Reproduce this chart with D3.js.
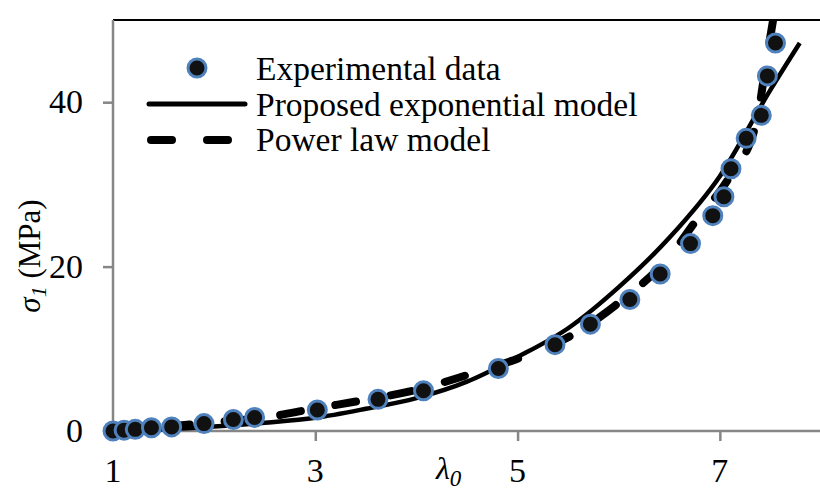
<!DOCTYPE html>
<html><head><meta charset="utf-8">
<script src="https://cdn.jsdelivr.net/npm/d3@7"></script>
<style>body{margin:0;background:#fff}svg{display:block}</style>
</head><body><div id="chart"></div>
<script>
// Experimental data
const expLambda = [1.0,1.11,1.22,1.38,1.58,1.9,2.19,2.4,3.02,3.62,4.07,4.81,5.37,5.72,6.11,6.41,6.71,6.93,7.04,7.11,7.26,7.41,7.47,7.55];
const expSigma  = [0.0,0.1,0.2,0.4,0.5,0.9,1.4,1.65,2.55,3.85,4.9,7.6,10.5,13.0,16.0,19.1,22.8,26.2,28.5,31.9,35.6,38.4,43.2,47.2];
// Proposed exponential model
const expoLambda = [1,1.5,2,2.5,3,3.5,4,4.5,5,5.5,6,6.5,7,7.5,7.79];
const expoSigma  = [0,0.2,0.55,1.0,1.6,2.7,4.0,6.0,9.0,12.5,17.5,23.5,31.0,41.5,47.2];
// Power law model
const powLambda = [1,1.5,2,2.5,3,3.5,4,4.5,5,5.5,6,6.5,6.76,7.1,7.36,7.47,7.56];
const powSigma  = [0,0.5,1.05,1.65,2.75,3.8,5.0,6.8,8.8,11.4,15.6,21.2,25.5,31.0,37.5,45.8,52.5];
const xTicks = [1,3,5,7];
const yTicks = [0,20,40];
const seriesNames = ["Experimental data","Proposed exponential model","Power law model"];

const FONT="Liberation Serif, Times New Roman, serif";
const W=820,H=490;
const svg=d3.select("#chart").append("svg").attr("width",W).attr("height",H)
  .attr("font-family",FONT);
const x=d3.scaleLinear().domain([1,8]).range([113,821]);
const y=d3.scaleLinear().domain([0,50]).range([431,20]);
const grey="#868686", blue="#4f81bd";

svg.append("defs").append("clipPath").attr("id","clip").append("rect")
  .attr("x",x(1)-14).attr("y",y(50)).attr("width",W).attr("height",y(0)-y(50)+16);

// top border
svg.append("line").attr("x1",x(1)).attr("x2",W).attr("y1",y(50)).attr("y2",y(50)).attr("stroke","#000").attr("stroke-width",2);

// axes
const xa=svg.append("g").attr("transform",`translate(0,${y(0)})`)
  .call(d3.axisBottom(x).tickValues(xTicks).tickSize(10).tickFormat(""));
xa.selectAll("path,line").attr("stroke",grey).attr("stroke-width",2.5);
xa.select(".domain").attr("d",`M${x(1)},0H${W}`);
const ya=svg.append("g").attr("transform",`translate(${x(1)},0)`)
  .call(d3.axisLeft(y).tickValues(yTicks).tickSize(10).tickFormat(""));
ya.selectAll("path,line").attr("stroke",grey).attr("stroke-width",2.5);
ya.select(".domain").attr("d",`M0,${y(0)}V${y(50)}`);

xTicks.forEach(v=>svg.append("text").attr("x",x(v)).attr("y",482).attr("font-size",34)
  .attr("text-anchor","middle").text(String(v)));
yTicks.forEach(v=>svg.append("text").attr("x",83).attr("y",y(v)+11).attr("font-size",34)
  .attr("text-anchor","end").text(String(v)));

// axis titles
const xl=svg.append("text").attr("x",436).attr("y",479).attr("font-size",32);
xl.append("tspan").attr("font-style","italic").text("λ");
xl.append("tspan").attr("font-style","italic").attr("font-size",23).attr("dy",7).text("0");

const yl=svg.append("text").attr("transform","translate(40,256) rotate(-90)").attr("font-size",31).attr("text-anchor","middle");
yl.append("tspan").attr("font-style","italic").text("σ");
yl.append("tspan").attr("font-style","italic").attr("font-size",22).attr("dy",6).text("1");
yl.append("tspan").attr("dy",-6).text(" (MPa)");

const plot=svg.append("g").attr("clip-path","url(#clip)");
const line=d3.line().x(d=>x(d[0])).y(d=>y(d[1])).curve(d3.curveMonotoneX);

plot.append("path").datum(expoLambda.map((l,i)=>[l,expoSigma[i]])).attr("d",line)
  .attr("fill","none").attr("stroke","#000").attr("stroke-width",4.5);
plot.append("path").datum(powLambda.map((l,i)=>[l,powSigma[i]])).attr("d",line)
  .attr("fill","none").attr("stroke","#000").attr("stroke-width",8)
  .attr("stroke-dasharray","21 35").attr("stroke-linecap","round");

plot.selectAll("circle.pt").data(expLambda.map((l,i)=>[l,expSigma[i]])).enter().append("circle")
  .attr("class","pt").attr("cx",d=>x(d[0])).attr("cy",d=>y(d[1])).attr("r",9)
  .attr("fill","#111").attr("stroke",blue).attr("stroke-width",3);

// legend
const lg=svg.append("g");
lg.append("circle").attr("cx",197).attr("cy",68).attr("r",9).attr("fill","#111").attr("stroke",blue).attr("stroke-width",3);
lg.append("line").attr("x1",149).attr("x2",245).attr("y1",104).attr("y2",104).attr("stroke","#000").attr("stroke-width",5).attr("stroke-linecap","round");
lg.append("line").attr("x1",151).attr("x2",232).attr("y1",140).attr("y2",140).attr("stroke","#000").attr("stroke-width",8)
  .attr("stroke-dasharray","21 35").attr("stroke-linecap","round");
seriesNames.forEach((n,i)=>lg.append("text").attr("x",256).attr("y",80+i*35.5).attr("font-size",33.5).text(n));
</script></body></html>
